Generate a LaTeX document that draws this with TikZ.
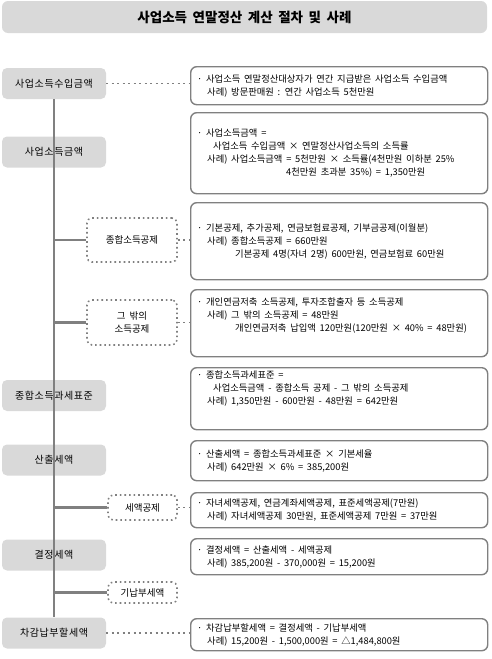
\documentclass[tikz,border=0pt]{standalone}
\usepackage{fontspec}
\setmainfont[WordSpace=1.8]{Noto Sans CJK KR}
\newfontfamily\stagefont[LetterSpace=6]{Noto Sans CJK KR}
\usetikzlibrary{positioning,calc}
\definecolor{BoxGray}{HTML}{D9D9D9}
\definecolor{LineGray}{HTML}{808080}

\tikzset{
  stage/.style={fill=BoxGray,rounded corners=5pt,minimum width=104pt,minimum height=31pt,
    inner sep=0pt,font=\stagefont\fontsize{10}{12}\selectfont},
  sub/.style={draw=LineGray,line width=1.6pt,dash pattern=on 1.6pt off 3pt,rounded corners=5pt,
    inner sep=0pt,align=center,font=\fontsize{9.5}{13}\selectfont},
  note/.style={draw=LineGray,line width=1.4pt,rounded corners=6pt,anchor=north west,
    minimum width=297pt,inner sep=0pt},
  notetext/.style={anchor=west,align=left,inner sep=0pt,font=\fontsize{9.3}{13}\selectfont},
  trunk/.style={LineGray,line width=2.5pt},
  link/.style={LineGray,line width=1.8pt,dash pattern=on 2pt off 3.5pt},
}

\begin{document}
\begin{tikzpicture}[x=1pt,y=-1pt]
  \useasboundingbox (0,0) rectangle (491,659);
  \node[fill=BoxGray,rounded corners=6pt,minimum width=485pt,minimum height=32pt,
    font=\bfseries\fontsize{13.5}{16}\selectfont] (title) at (244.5,17) {사업소득 연말정산 계산 절차 및 사례};

  % steps on the left
  \node[stage] (s1) at (54,83.5) {사업소득수입금액};
  \node[stage] (s2) at (54,152) {사업소득금액};
  \node[stage] (s3) at (54,395.5) {종합소득과세표준};
  \node[stage] (s4) at (54,460) {산출세액};
  \node[stage] (s5) at (54,555) {결정세액};
  \node[stage] (s6) at (54,633) {차감납부할세액};

  % deductions
  \node[sub,minimum width=90pt,minimum height=44pt] (d1) at (132,240) {종합소득공제};
  \node[sub,minimum width=90pt,minimum height=45pt] (d2) at (132,322.5) {그 밖의\\소득공제};
  \node[sub,minimum width=69pt,minimum height=25pt] (d3) at (142.5,507.5) {세액공제};
  \node[sub,minimum width=69pt,minimum height=21pt] (d4) at (142.5,592.5) {기납부세액};

  % notes on the right
  \foreach \n/\top/\bot/\dy/\txt in {
    1/66/104/0/{· 사업소득 연말정산대상자가 연간 지급받은 사업소득 수입금액\\
      \hspace*{10pt}사례) 방문판매원 : 연간 사업소득 5천만원},
    2/112/193/0/{· 사업소득금액 =\\
      \hspace*{16pt}사업소득 수입금액 × 연말정산사업소득의 소득률\\
      \hspace*{10pt}사례) 사업소득금액 = 5천만원 × 소득률(4천만원 이하분 25\%\\
      \hspace*{89pt}4천만원 초과분 35\%) = 1,350만원},
    3/202/279/0/{· 기본공제, 추가공제, 연금보험료공제, 기부금공제(이월분)\\
      \hspace*{10pt}사례) 종합소득공제 = 660만원\\
      \hspace*{38pt}기본공제 4명(자녀 2명) 600만원, 연금보험료 60만원},
    4/289/356/7.5/{· 개인연금저축 소득공제, 투자조합출자 등 소득공제\\
      \hspace*{10pt}사례) 그 밖의 소득공제 = 48만원\\
      \hspace*{38pt}개인연금저축 납입액 120만원(120만원 × 40\% = 48만원)},
    5/367/429/10/{· 종합소득과세표준 =\\
      \hspace*{16pt}사업소득금액 - 종합소득 공제 - 그 밖의 소득공제\\
      \hspace*{10pt}사례) 1,350만원 - 600만원 - 48만원 = 642만원},
    6/440/480/0/{· 산출세액 = 종합소득과세표준 × 기본세율\\
      \hspace*{10pt}사례) 642만원 × 6\% = 385,200원},
    7/492/527/0/{· 자녀세액공제, 연금계좌세액공제, 표준세액공제(7만원)\\
      \hspace*{10pt}사례) 자녀세액공제 30만원, 표준세액공제 7만원 = 37만원},
    8/538/574/0/{· 결정세액 = 산출세액 - 세액공제\\
      \hspace*{10pt}사례) 385,200원 - 370,000원 = 15,200원},
    9/618/650/0/{· 차감납부할세액 = 결정세액 - 기납부세액\\
      \hspace*{10pt}사례) 15,200원 - 1,500,000원 = △1,484,800원}}
  {
    \node[note,minimum height={(\bot-\top)*1pt}] (r\n) at (190,\top) {};
    \node[notetext] (t\n) at ([xshift=7pt,yshift=\dy pt]r\n.west) {\txt};
  }

  % connectors
  \draw[trunk] (s1.south) -- (s6.north);
  \foreach \d in {d1,d2,d3,d4}
    \draw[trunk] (\d.west -| s1.south) -- (\d.west);
  \draw[link] (s1.east) -- (s1.east -| r1.west);
  \draw[link] (s6.east) -- (s6.east -| r9.west);
  \draw[link] (d1.east) -- (d1.east -| r3.west);
  \draw[link] (d2.east) -- (d2.east -| r4.west);
  \draw[link] (d3.east) -- (d3.east -| r7.west);
\end{tikzpicture}
\end{document}
